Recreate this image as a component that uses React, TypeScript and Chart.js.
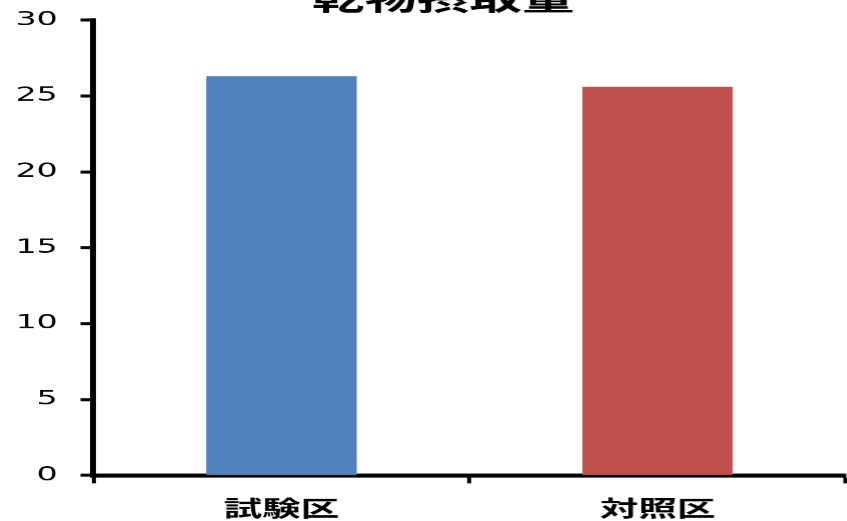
import React, { useEffect, useRef } from "react";
import { Chart, registerables } from "chart.js";
Chart.register(...registerables);

const titleText = "乾物摂取量";
const categories = ["試験区", "対照区"];
const values = [26.3, 25.6];
const barColors = ["#4F81BD", "#C0504D"];
const yMin = 0;
const yMax = 30;
const yStep = 5;

const S = 1.75; // horizontal stretch of the original picture
const W = 510;
const TOP = 40;
const H = 521 + TOP;

export default function App() {
  const ref = useRef<HTMLCanvasElement>(null);
  useEffect(() => {
    const chart = new Chart(ref.current!, {
      type: "bar",
      data: {
        labels: categories,
        datasets: [
          {
            data: values,
            backgroundColor: barColors,
            borderWidth: 0,
            barPercentage: 0.4,
            categoryPercentage: 1,
          },
        ],
      },
      options: {
        animation: false,
        responsive: false,
        devicePixelRatio: S,
        layout: { padding: { left: 0, right: 3.7, top: 0, bottom: 0 } },
        plugins: {
          legend: { display: false },
          tooltip: { enabled: false },
          title: {
            display: true,
            text: titleText,
            color: "#000",
            font: { family: "'Noto Sans CJK JP'", size: 30, weight: "bold" },
            padding: { top: 21, bottom: 3 },
          },
        },
        scales: {
          x: {
            grid: {
              display: true,
              drawOnChartArea: false,
              drawTicks: true,
              tickLength: 8,
              tickWidth: 2.3,
              tickColor: "#000",
              offset: true,
            },
            border: { display: true, color: "#000", width: 4 },
            ticks: {
              color: "#000",
              font: { family: "'Noto Sans CJK JP'", size: 22, weight: "bold" },
              padding: 11.3,
            },
            afterFit: (s: any) => {
              s.height = 46;
            },
          },
          y: {
            min: yMin,
            max: yMax,
            ticks: {
              stepSize: yStep,
              color: "#000",
              font: { family: "'DejaVu Sans'", size: 19 },
              padding: 13,
            },
            grid: {
              drawOnChartArea: false,
              drawTicks: true,
              tickLength: 7.4,
              tickWidth: 3,
              tickColor: "#000",
            },
            border: { display: true, color: "#000", width: 3.4 },
            afterFit: (s: any) => {
              s.width = 53.4;
            },
          },
          spacer: {
            type: "linear",
            position: "right",
            display: true,
            grid: { display: false, drawTicks: false },
            border: { display: false },
            ticks: { display: false },
            afterFit: (s: any) => {
              s.width = 23.4;
            },
          },
        },
      },
    });
    return () => chart.destroy();
  }, []);
  return (
    <div
      style={{
        position: "fixed",
        left: 0,
        top: 0,
        width: 847,
        height: 521,
        overflow: "hidden",
      }}
    >
      <div
        style={{
          position: "absolute",
          left: 0,
          top: -TOP,
          width: W,
          height: H,
          transform: `scaleX(${S})`,
          transformOrigin: "0 0",
        }}
      >
        <canvas ref={ref} width={W} height={H} />
      </div>
    </div>
  );
}
